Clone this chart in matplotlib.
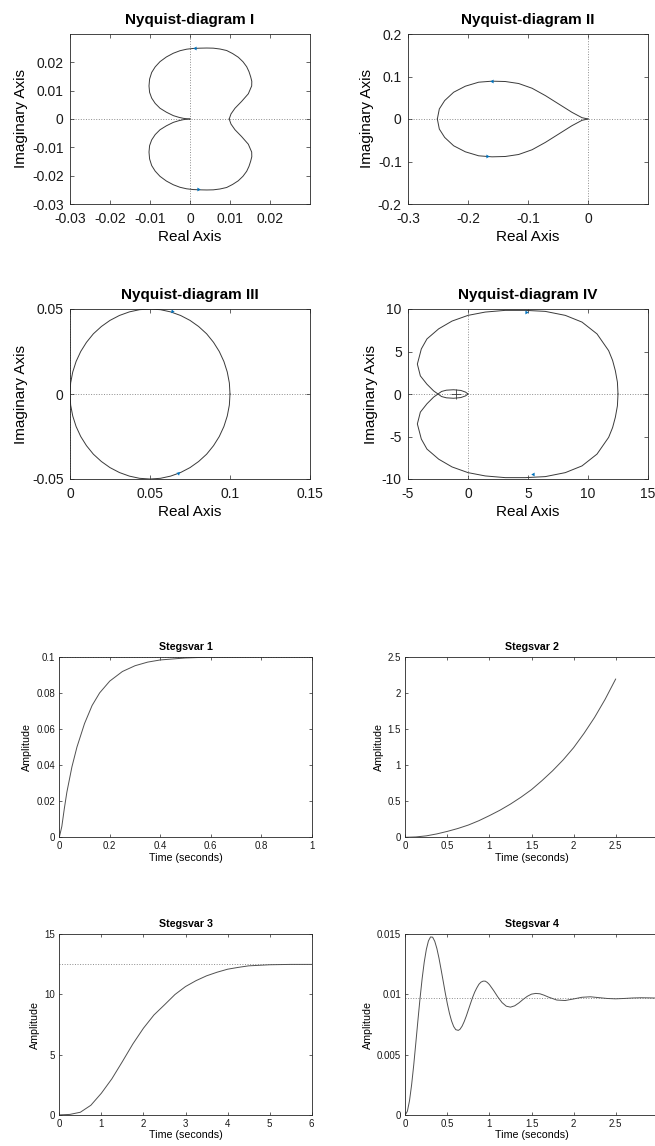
import matplotlib
matplotlib.use("Agg")
import matplotlib.pyplot as plt
import numpy as np

plt.rcParams['font.family'] = ['Liberation Sans', 'DejaVu Sans']
plt.rcParams['axes.unicode_minus'] = False

# ---- Nyquist I (upper lobe, lower lobe is its mirror) ----
ny1_re = [0.0098, 0.01025, 0.01125, 0.0129, 0.01458, 0.01542, 0.01545, 0.01517, 0.01475,
          0.01417, 0.01325, 0.01208, 0.01065, 0.00917, 0.0075, 0.00583, 0.0042, 0.0025,
          0.0008, -0.00083, -0.0025, -0.00417, -0.0059, -0.0075, -0.0087, -0.00958,
          -0.0101, -0.01025, -0.0101, -0.00958, -0.0087, -0.0075, -0.0059, -0.00417,
          -0.0028, -0.00167, -0.0007, 0.0]
ny1_im = [0.0, 0.00179, 0.0038, 0.0062, 0.0089, 0.01167, 0.0133, 0.01488, 0.0167,
          0.01845, 0.0202, 0.02179, 0.0231, 0.02417, 0.0247, 0.025, 0.02505, 0.025,
          0.0249, 0.02464, 0.0241, 0.02321, 0.0219, 0.02024, 0.0184, 0.01643,
          0.0141, 0.01167, 0.0094, 0.00738, 0.0055, 0.0038, 0.0024, 0.00119,
          0.0006, 0.00024, 0.00006, 0.0]
ny1_arrows = [(0.00125, 0.025, 180), (0.0021, -0.0248, 0)]

# ---- Nyquist II ----
ny2_re = [0.0, -0.01, -0.0267, -0.0489, -0.0711, -0.0933, -0.1156, -0.1378, -0.16,
          -0.1822, -0.2044, -0.2239, -0.2389, -0.2478, -0.2511]
ny2_im = [0.0, 0.0031, 0.0157, 0.0354, 0.0551, 0.0724, 0.0835, 0.0882, 0.089,
          0.0866, 0.0772, 0.063, 0.0433, 0.0236, 0.0]
ny2_arrows = [(-0.16, 0.089, 180), (-0.169, -0.088, 0)]

# ---- Nyquist III ----
ny3_re = [0.0, 0.0004, 0.0017, 0.0038, 0.0067, 0.0103, 0.0146, 0.0196, 0.025, 0.0309,
          0.0371, 0.0435, 0.05, 0.0565, 0.0629, 0.0691, 0.075, 0.0804, 0.0854, 0.0897,
          0.0933, 0.0962, 0.0983, 0.0996, 0.1]
ny3_im = [0.0, 0.0065, 0.0129, 0.0191, 0.025, 0.0304, 0.0354, 0.0397, 0.0433, 0.0462,
          0.0483, 0.0496, 0.05, 0.0496, 0.0483, 0.0462, 0.0433, 0.0397, 0.0354, 0.0304,
          0.025, 0.0191, 0.0129, 0.0065, 0.0]
ny3_arrows = [(0.0638, 0.049, -10), (0.0675, -0.0462, 165)]

# ---- Nyquist IV (big upper half + small inner arc) ----
ny4_re = [12.5, 12.45, 12.28, 12.05, 11.72, 10.75, 9.5, 8.11, 6.44, 4.78, 3.11, 1.44,
          0.0, -1.33, -2.44, -3.42, -3.89, -4.22, -3.97, -3.42, -2.86, -2.5,
          -2.2, -1.8, -1.2, -0.6, -0.2, 0.0]
ny4_im = [0.0, 1.4, 2.73, 3.95, 5.1, 7.07, 8.46, 9.25, 9.72, 9.84, 9.84, 9.64,
          9.25, 8.58, 7.67, 6.48, 5.3, 3.52, 2.13, 1.15, 0.36, 0.0,
          -0.3, -0.45, -0.5, -0.42, -0.22, 0.0]
ny4_arrows = [(4.86, 9.68, 0), (5.39, -9.45, 180)]
ny4_crit = (-1, 0)

# ---- Step responses ----
st1_t = [0, 0.01, 0.02, 0.03, 0.05, 0.07, 0.1, 0.13, 0.16, 0.2, 0.25, 0.3, 0.35,
         0.4, 0.5, 0.6, 0.7, 0.8, 0.9, 1.0]
st1_y = [0, 0.006, 0.016, 0.025, 0.039, 0.05, 0.063, 0.073, 0.08, 0.0865, 0.0918,
         0.095, 0.097, 0.0982, 0.0993, 0.0998, 0.0999, 0.1, 0.1, 0.1]
st1_final = 0.1

st2_t = [0, 0.125, 0.25, 0.375, 0.5, 0.625, 0.75, 0.875, 1.0, 1.125, 1.25, 1.375,
         1.5, 1.625, 1.75, 1.875, 2.0, 2.125, 2.25, 2.375, 2.5]
st2_y = [0, 0.005, 0.02, 0.047, 0.082, 0.122, 0.17, 0.23, 0.3, 0.375, 0.46, 0.555,
         0.66, 0.785, 0.92, 1.07, 1.24, 1.44, 1.66, 1.91, 2.19]

st3_t = [0, 0.25, 0.5, 0.75, 1.0, 1.25, 1.5, 1.75, 2.0, 2.25, 2.5, 2.75, 3.0, 3.25,
         3.5, 3.75, 4.0, 4.25, 4.5, 5.0, 5.5, 6.0]
st3_y = [0, 0.04, 0.22, 0.8, 1.8, 3.0, 4.43, 5.9, 7.2, 8.3, 9.14, 10.0, 10.66, 11.15,
         11.55, 11.85, 12.1, 12.25, 12.38, 12.47, 12.5, 12.5]
st3_final = 12.5

st4_t = [0, 0.025, 0.05, 0.075, 0.1, 0.125, 0.15, 0.175, 0.2, 0.225, 0.25, 0.275, 0.3,
         0.325, 0.35, 0.375, 0.4, 0.425, 0.45, 0.475, 0.5, 0.525, 0.55, 0.575, 0.6,
         0.63, 0.65, 0.675, 0.7, 0.725, 0.75, 0.775, 0.8, 0.825, 0.85, 0.875, 0.9,
         0.925, 0.95, 0.975, 1.0, 1.05, 1.1, 1.15, 1.2, 1.25, 1.3, 1.35, 1.4, 1.45,
         1.5, 1.55, 1.6, 1.65, 1.7, 1.8, 1.9, 2.0, 2.1, 2.2, 2.3, 2.4, 2.5, 2.6, 2.7,
         2.8, 2.9, 3.0]
st4_y = [0, 0.00031, 0.00118, 0.0025, 0.00413, 0.00597, 0.00785, 0.00967, 0.01131,
         0.01269, 0.01374, 0.01445, 0.01478, 0.01476, 0.01442, 0.01383, 0.01303,
         0.01209, 0.01112, 0.01013, 0.00922, 0.00843, 0.0078, 0.00734, 0.00708,
         0.00702, 0.00711, 0.00737, 0.00775, 0.00821, 0.00873, 0.00925, 0.00976,
         0.0102, 0.01055, 0.01085, 0.01103, 0.01111, 0.01111, 0.011, 0.01082,
         0.01033, 0.00979, 0.00933, 0.00903, 0.00895, 0.00906, 0.0093, 0.00959,
         0.00985, 0.01003, 0.01009, 0.01006, 0.00994, 0.00979, 0.00954, 0.0095,
         0.00963, 0.00977, 0.00981, 0.00974, 0.00967, 0.00964, 0.00967, 0.00971,
         0.00973, 0.00972, 0.0097]
st4_final = 0.0097

CURVE = '#3a3a3a'
DOT = '#8c8c8c'
BLUE = '#0072BD'
FRAME = '#262626'

W, H = 655, 1146
fig = plt.figure(figsize=(W / 100, H / 100), dpi=100)


def make_ax(x, ytop, w, h):
    return fig.add_axes([x / W, 1 - (ytop + h) / H, w / W, h / H])


def fmt(v, _):
    if abs(v) < 1e-12:
        return '0'
    return f'{v:g}'


def style(ax, fs, tick_len, xpad, ypad):
    for s in ax.spines.values():
        s.set_color(FRAME)
        s.set_linewidth(0.6)
    ax.tick_params(direction='in', top=True, right=True, length=tick_len,
                   width=0.5, color=FRAME, labelsize=fs, labelcolor='#1a1a1a')
    ax.tick_params(axis='x', pad=xpad)
    ax.tick_params(axis='y', pad=ypad)
    ax.xaxis.set_major_formatter(fmt)
    ax.yaxis.set_major_formatter(fmt)


def nyquist(ax, re, im, arrows, xlim, ylim, xticks, yticks, title):
    re = np.asarray(re)
    im = np.asarray(im)
    ax.axhline(0, color=DOT, ls=':', lw=0.7, zorder=1)
    ax.axvline(0, color=DOT, ls=':', lw=0.7, zorder=1)
    ax.plot(re, im, color=CURVE, lw=0.7, zorder=2)
    ax.plot(re, -im, color=CURVE, lw=0.7, zorder=2)
    for x, y, ang in arrows:
        ax.plot(x, y, marker=(3, 0, ang - 90), color=BLUE, ms=3.2, mew=0, zorder=3)
    ax.set_xlim(*xlim)
    ax.set_ylim(*ylim)
    ax.set_xticks(xticks)
    ax.set_yticks(yticks)
    style(ax, 10, 3, 5.5, 4.5)
    ax.set_xlabel('Real Axis', fontsize=11, labelpad=3)
    ax.set_ylabel('Imaginary Axis', fontsize=11, labelpad=3)
    ax.set_title(title, fontsize=11, fontweight='bold', pad=7)


def step(ax, t, y, final, xlim, ylim, xticks, yticks, title):
    if final is not None:
        ax.axhline(final, color=DOT, ls=':', lw=0.7, zorder=1)
    ax.plot(t, y, color='#505050', lw=0.7, zorder=2)
    ax.set_xlim(*xlim)
    ax.set_ylim(*ylim)
    ax.set_xticks(xticks)
    ax.set_yticks(yticks)
    style(ax, 7, 2.5, 3, 3)
    ax.set_xlabel('Time (seconds)', fontsize=7.7, labelpad=1)
    ax.set_ylabel('Amplitude', fontsize=7.7, labelpad=3)
    ax.set_title(title, fontsize=7.7, fontweight='bold', pad=5)


a1 = make_ax(70, 34, 240, 170)
nyquist(a1, ny1_re, ny1_im, ny1_arrows, (-0.03, 0.03), (-0.03, 0.03),
        [-0.03, -0.02, -0.01, 0, 0.01, 0.02], [-0.03, -0.02, -0.01, 0, 0.01, 0.02],
        'Nyquist-diagram I')

a2 = make_ax(408, 34, 240, 170)
nyquist(a2, ny2_re, ny2_im, ny2_arrows, (-0.3, 0.1), (-0.2, 0.2),
        [-0.3, -0.2, -0.1, 0], [-0.2, -0.1, 0, 0.1, 0.2], 'Nyquist-diagram II')

a3 = make_ax(70, 309, 240, 170)
nyquist(a3, ny3_re, ny3_im, ny3_arrows, (0, 0.15), (-0.05, 0.05),
        [0, 0.05, 0.1, 0.15], [-0.05, 0, 0.05], 'Nyquist-diagram III')

a4 = make_ax(408, 309, 240, 170)
nyquist(a4, ny4_re, ny4_im, ny4_arrows, (-5, 15), (-10, 10),
        [-5, 0, 5, 10, 15], [-10, -5, 0, 5, 10], 'Nyquist-diagram IV')
a4.plot(*ny4_crit, marker='+', color=CURVE, ms=7, mew=0.6, zorder=3)

b1 = make_ax(59.3, 656.7, 252.4, 180.6)
step(b1, st1_t, st1_y, st1_final, (0, 1), (0, 0.1),
     np.arange(0, 1.01, 0.2), np.arange(0, 0.101, 0.02), 'Stegsvar 1')

b2 = make_ax(405.3, 656.7, 252.4, 180.6)
step(b2, st2_t, st2_y, None, (0, 3), (0, 2.5),
     np.arange(0, 3.01, 0.5), np.arange(0, 2.51, 0.5), 'Stegsvar 2')

b3 = make_ax(59.3, 934.3, 252.4, 180.6)
step(b3, st3_t, st3_y, st3_final, (0, 6), (0, 15),
     np.arange(0, 6.01, 1), np.arange(0, 15.1, 5), 'Stegsvar 3')

b4 = make_ax(405.3, 934.3, 252.4, 180.6)
step(b4, st4_t, st4_y, st4_final, (0, 3), (0, 0.015),
     np.arange(0, 3.01, 0.5), np.arange(0, 0.0151, 0.005), 'Stegsvar 4')

fig.savefig('out.png', dpi=100, facecolor='white')
